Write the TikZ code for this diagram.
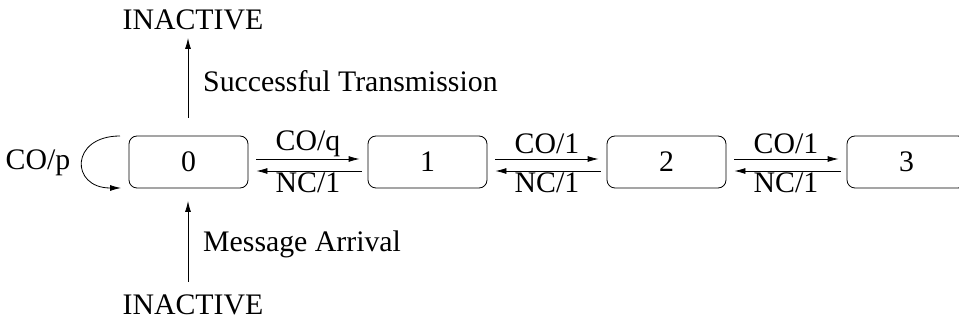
\documentclass[tikz,border=0pt]{standalone}
\usepackage{fontspec}
\setmainfont{Liberation Serif}
\usetikzlibrary{arrows.meta}
\begin{document}
\begin{tikzpicture}[x=1pt,y=-1pt,
  every node/.style={font=\fontsize{29.8}{34}\selectfont, inner sep=0pt},
  state/.style={draw, line width=0.8pt, rounded corners=8pt, minimum width=119pt, minimum height=52pt},
  arr/.style={line width=0.8pt, -{Latex[length=11pt,width=6pt]}}]
\useasboundingbox (0,0) rectangle (959,320);
\node[state] (b0) at (188.5,162) {0};
\node[state] (b1) at (427.5,162) {1};
\node[state] (b2) at (666.5,162) {2};
\node[state] (b3) at (906.5,162) {3};
\node (inTop) at (193,20) {INACTIVE};
\node (inBot) at (193,305) {INACTIVE};
\node[anchor=west] (succ) at (203,81) {Successful Transmission};
\node[anchor=west] (msg) at (203,244) {Message Arrival};
\node (cop) at (38,163) {CO/p};
\coordinate (upS) at (188,118);
\coordinate (upE) at (188,38);
\coordinate (dnS) at (188,282);
\coordinate (dnE) at (188,201);
\draw[arr] (upS) -- (upE);
\draw[arr] (dnS) -- (dnE);
\coordinate (lpS) at (120,136);
\coordinate (lpE) at (121,188);
\draw[arr] (lpS) .. controls (70,136) and (70,188) .. (lpE);
\foreach \a/\b in {b0/b1, b1/b2, b2/b3}{
  \draw[arr] ([xshift=8pt,yshift=3pt]\a.east) -- ([xshift=-8pt,yshift=3pt]\b.west);
  \draw[arr] ([xshift=-6pt,yshift=-9pt]\b.west) -- ([xshift=8pt,yshift=-9pt]\a.east);
}
\node (l01) at (308,144) {CO/q};
\node (l10) at (308,183) {NC/1};
\node (l12) at (547,144) {CO/1};
\node (l21) at (547,183) {NC/1};
\node (l23) at (786,144) {CO/1};
\node (l32) at (786,183) {NC/1};
\end{tikzpicture}
\end{document}
